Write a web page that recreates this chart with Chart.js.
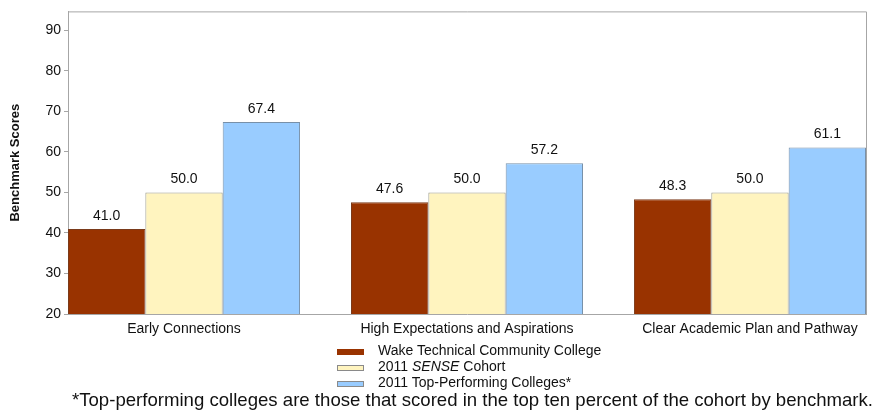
<!DOCTYPE html>
<html>
<head>
<meta charset="utf-8">
<script src="https://cdn.jsdelivr.net/npm/chart.js@4/dist/chart.umd.min.js"></script>
<style>
  html, body { margin: 0; padding: 0; background: #fff; }
  #wrap { position: relative; width: 876px; height: 413px; font-family: Arial, "Liberation Sans", sans-serif; color: #111; }
  #c { position: absolute; left: 0; top: 0; }
  .leg { position: absolute; left: 337px; font-size: 14px; line-height: 16px; }
  .leg span.sw { position: absolute; left: 0; width: 27px; height: 6px; border: 1px solid #8a8a8a; box-sizing: border-box; }
  .leg span.tx { position: absolute; left: 41px; white-space: nowrap; }
  #note { position: absolute; left: 72px; top: 389px; font-size: 18.6px; white-space: nowrap; }
</style>
</head>
<body>
<div id="wrap">
  <canvas id="c" width="876" height="413"></canvas>
  <div class="leg" style="top:342px"><span class="sw" style="top:7px;background:#993300;border-color:#993300"></span><span class="tx">Wake Technical Community College</span></div>
  <div class="leg" style="top:358px"><span class="sw" style="top:7px;background:#fff4bf"></span><span class="tx">2011 <i>SENSE</i> Cohort</span></div>
  <div class="leg" style="top:374px"><span class="sw" style="top:7px;background:#99ccff"></span><span class="tx">2011 Top-Performing Colleges*</span></div>
  <div id="note">*Top-performing colleges are those that scored in the top ten percent of the cohort by benchmark.</div>
</div>
<script>
// du lieu doc tu hinh
const categories = ['Early Connections', 'High Expectations and Aspirations', 'Clear Academic Plan and Pathway'];
const seriesNames = ['Wake Technical Community College', '2011 SENSE Cohort', '2011 Top-Performing Colleges*'];
const wakeScores = [41.0, 47.6, 48.3];
const cohortScores = [50.0, 50.0, 50.0];
const topScores = [67.4, 57.2, 61.1];
const yTicks = [20, 30, 40, 50, 60, 70, 80, 90];
const colors = ['#993300', '#fff4bf', '#99ccff'];

const half = 0.41; // nua nhom cot, de nhom sat mep khung

function toPoints(arr) {
    return arr.map((v, i) => ({ x: i, y: v }));
}

// ve khung tren + phai
const framePlugin = {
    id: 'frame',
    afterDraw(chart) {
        const a = chart.chartArea;
        const ctx = chart.ctx;
        ctx.save();
        ctx.strokeStyle = '#a6a6a6';
        ctx.lineWidth = 1;
        ctx.beginPath();
        ctx.moveTo(a.left, a.top + 0.5);
        ctx.lineTo(a.right + 0.5, a.top + 0.5);
        ctx.lineTo(a.right + 0.5, a.bottom);
        ctx.stroke();
        ctx.restore();
    }
};

// so tren dau cot
const labelPlugin = {
    id: 'valueLabels',
    afterDatasetsDraw(chart) {
        const ctx = chart.ctx;
        ctx.save();
        ctx.font = '14px Arial, "Liberation Sans", sans-serif';
        ctx.fillStyle = '#111';
        ctx.textAlign = 'center';
        ctx.textBaseline = 'bottom';
        chart.data.datasets.forEach((ds, di) => {
            const meta = chart.getDatasetMeta(di);
            meta.data.forEach((bar, i) => {
                ctx.fillText(ds.data[i].y.toFixed(1), bar.x, bar.y - 6);
            });
        });
        ctx.restore();
    }
};

const ctx = document.getElementById('c').getContext('2d');
const myChart = new Chart(ctx, {
    type: 'bar',
    data: {
        datasets: [
            { label: seriesNames[0], data: toPoints(wakeScores), backgroundColor: colors[0], borderColor: '#7a3a1a', borderWidth: 1 },
            { label: seriesNames[1], data: toPoints(cohortScores), backgroundColor: colors[1], borderColor: '#9a9a8a', borderWidth: 1 },
            { label: seriesNames[2], data: toPoints(topScores), backgroundColor: colors[2], borderColor: '#7890a8', borderWidth: 1 }
        ]
    },
    options: {
        responsive: false,
        animation: false,
        layout: { padding: { top: 11, right: 10, left: 0, bottom: 0 } },
        datasets: { bar: { categoryPercentage: half * 2, barPercentage: 1 } },
        plugins: {
            legend: { display: false },
            tooltip: { enabled: false }
        },
        scales: {
            x: {
                type: 'linear',
                offset: false,
                min: -half,
                max: 2 + half,
                grid: { display: false },
                border: { display: true, color: '#a6a6a6' },
                afterBuildTicks: (scale) => { scale.ticks = categories.map((c, i) => ({ value: i })); },
                afterFit: (scale) => { scale.height = 99; },
                ticks: {
                    autoSkip: false,
                    maxRotation: 0,
                    padding: -1,
                    color: '#111',
                    font: { size: 14, family: 'Arial, "Liberation Sans", sans-serif' },
                    callback: (v) => categories[v]
                }
            },
            y: {
                min: 20,
                max: 94.7,
                afterBuildTicks: (scale) => { scale.ticks = yTicks.map(v => ({ value: v })); },
                afterFit: (scale) => { scale.width = 68; },
                grid: { drawOnChartArea: false, tickLength: 4, color: '#a6a6a6' },
                border: { display: true, color: '#a6a6a6' },
                ticks: {
                    padding: 3,
                    color: '#111',
                    font: { size: 14, family: 'Arial, "Liberation Sans", sans-serif' }
                },
                title: {
                    display: true,
                    text: 'Benchmark Scores',
                    color: '#111',
                    padding: { top: 8, bottom: 0 },
                    font: { size: 13, weight: 'bold', family: 'Arial, "Liberation Sans", sans-serif' }
                }
            }
        }
    },
    plugins: [framePlugin, labelPlugin]
});
</script>
</body>
</html>
